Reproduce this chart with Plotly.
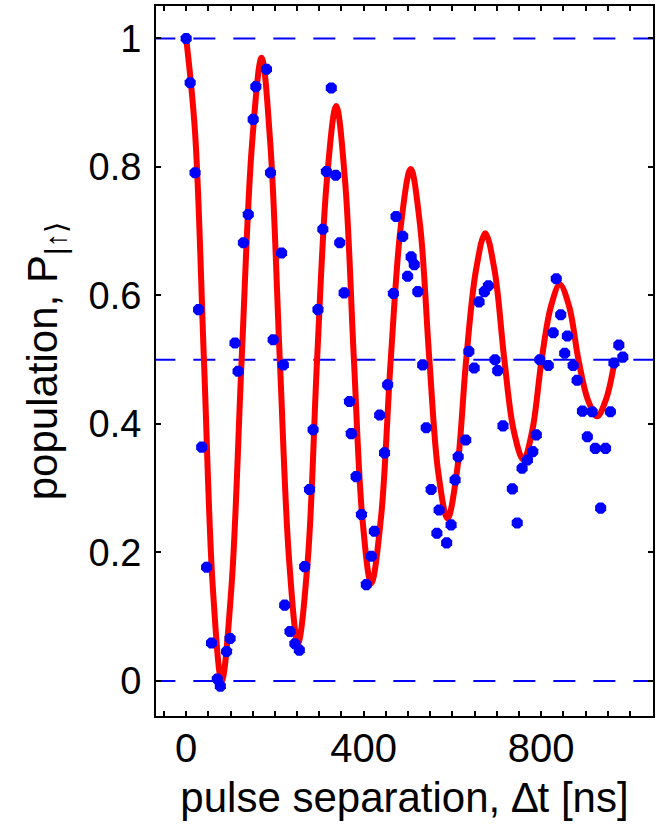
import plotly.graph_objects as go

# measured data: pulse separation (ns) and population
T_DATA = [0, 9, 20, 28, 35, 46, 57, 70, 77, 91, 99, 110, 117, 129, 140, 151, 157, 181, 190, 196,
          215, 219, 222, 234, 245, 255, 267, 278, 286, 297, 308, 316, 327, 337, 346, 356, 368, 372,
          383, 395, 406, 417, 424, 436, 447, 454, 467, 473, 488, 499, 507, 514, 522, 533, 541, 552,
          565, 570, 587, 597, 606, 613, 630, 637, 649, 660, 672, 681, 696, 702, 714, 735, 746, 757,
          769, 781, 789, 797, 816, 827, 834, 844, 853, 859, 872, 881, 893, 904, 915, 922, 934, 945,
          956, 964, 975, 984]
P_DATA = [1.0, 0.931, 0.791, 0.578, 0.364, 0.177, 0.059, 0.003, -0.008, 0.046, 0.066, 0.526, 0.482,
          0.682, 0.726, 0.874, 0.925, 0.952, 0.791, 0.531, 0.666, 0.492, 0.118, 0.077, 0.058, 0.048,
          0.178, 0.298, 0.391, 0.578, 0.703, 0.793, 0.923, 0.787, 0.682, 0.604, 0.435, 0.385, 0.318,
          0.259, 0.150, 0.194, 0.233, 0.414, 0.355, 0.461, 0.603, 0.723, 0.692, 0.630, 0.660, 0.648,
          0.606, 0.492, 0.394, 0.298, 0.230, 0.266, 0.215, 0.243, 0.313, 0.349, 0.375, 0.513, 0.487,
          0.590, 0.606, 0.615, 0.500, 0.483, 0.397, 0.299, 0.246, 0.331, 0.344, 0.357, 0.383, 0.500,
          0.491, 0.542, 0.626, 0.570, 0.510, 0.537, 0.491, 0.468, 0.420, 0.380, 0.419, 0.362, 0.269,
          0.362, 0.419, 0.495, 0.523, 0.504]

# fitted curve
T_FIT = [0, 20, 40, 60, 80, 102, 125, 148, 170, 190, 211, 232, 252, 274, 295, 317, 338, 358, 378,
         397, 417, 439, 461, 484, 506, 527, 548, 568, 589, 610, 631, 653, 674, 695, 717, 738, 760,
         780, 801, 822, 842, 863, 884, 905, 926, 946, 966]
P_FIT = [1.0, 0.854, 0.5, 0.146, 0.0, 0.146, 0.5, 0.832, 0.97, 0.832, 0.5, 0.188, 0.059, 0.188,
         0.5, 0.779, 0.895, 0.779, 0.5, 0.254, 0.152, 0.254, 0.5, 0.71, 0.797, 0.71, 0.5, 0.325,
         0.253, 0.325, 0.5, 0.639, 0.697, 0.639, 0.5, 0.39, 0.344, 0.39, 0.5, 0.583, 0.617, 0.583,
         0.5, 0.438, 0.412, 0.438, 0.5]

REF_LEVELS = [0, 0.5, 1]
X_RANGE = [-74, 1052]
X_VIEW = [-68, 1052]
Y_RANGE = [-0.0545, 1.0505]
X_TICKS = [0, 400, 800]
Y_TICKS = [0, 0.2, 0.4, 0.6, 0.8, 1]
Y_TICKTEXT = ["0", "0.2", "0.4", "0.6", "0.8", "1"]

FONT = "Liberation Sans, Arial, Helvetica, sans-serif"
BLUE = "rgb(0,0,255)"
RED = "rgb(255,0,0)"

fig = go.Figure()

for lvl in REF_LEVELS:
    fig.add_trace(go.Scatter(
        x=X_RANGE, y=[lvl, lvl], mode="lines",
        line=dict(color=BLUE, width=2, dash="22px,18px"),
        hoverinfo="skip", showlegend=False))

fig.add_trace(go.Scatter(
    x=T_FIT, y=P_FIT, mode="lines",
    line=dict(color=RED, width=6, shape="spline", smoothing=1.0),
    showlegend=False))

fig.add_trace(go.Scatter(
    x=T_DATA, y=P_DATA, mode="markers",
    marker=dict(symbol="octagon", size=12, color=BLUE, line=dict(width=0)),
    showlegend=False))

fig.update_layout(
    width=658, height=833,
    margin=dict(l=156, r=5, t=6, b=117),
    paper_bgcolor="white", plot_bgcolor="white",
    font=dict(family=FONT, size=42, color="black"),
    showlegend=False,
)

fig.update_xaxes(
    range=X_VIEW, tickmode="array", tickvals=X_TICKS, ticktext=[str(v) for v in X_TICKS],
    ticks="inside", ticklen=5, tickwidth=1.5, tickcolor="black",
    minor=dict(dtick=50, tick0=0, ticks="inside", ticklen=5, tickwidth=1.5, tickcolor="black"),
    showline=True, linewidth=2, linecolor="black", mirror="ticks",
    showgrid=False, zeroline=False, automargin=False,
    tickfont=dict(family=FONT, size=40, color="black"),
    ticklabelstandoff=-4,
    title=dict(text="pulse separation, \u2206t [ns]", font=dict(family=FONT, size=42, color="black"),
               standoff=14),
)

fig.update_yaxes(
    range=Y_RANGE, tickmode="array", tickvals=Y_TICKS, ticktext=Y_TICKTEXT,
    ticks="inside", ticklen=5, tickwidth=1.5, tickcolor="black",
    showline=True, linewidth=2, linecolor="black", mirror="ticks",
    showgrid=False, zeroline=False, automargin=False,
    tickfont=dict(family=FONT, size=38, color="black"),
    ticklabelstandoff=5,
    title=dict(text="population, P<sub>|\u2191\u27e9</sub>", font=dict(family=FONT, size=42, color="black"),
               standoff=18),
)

fig.write_html("out.html", config={"displayModeBar": False},
               post_script="document.body.style.margin='0px';")
